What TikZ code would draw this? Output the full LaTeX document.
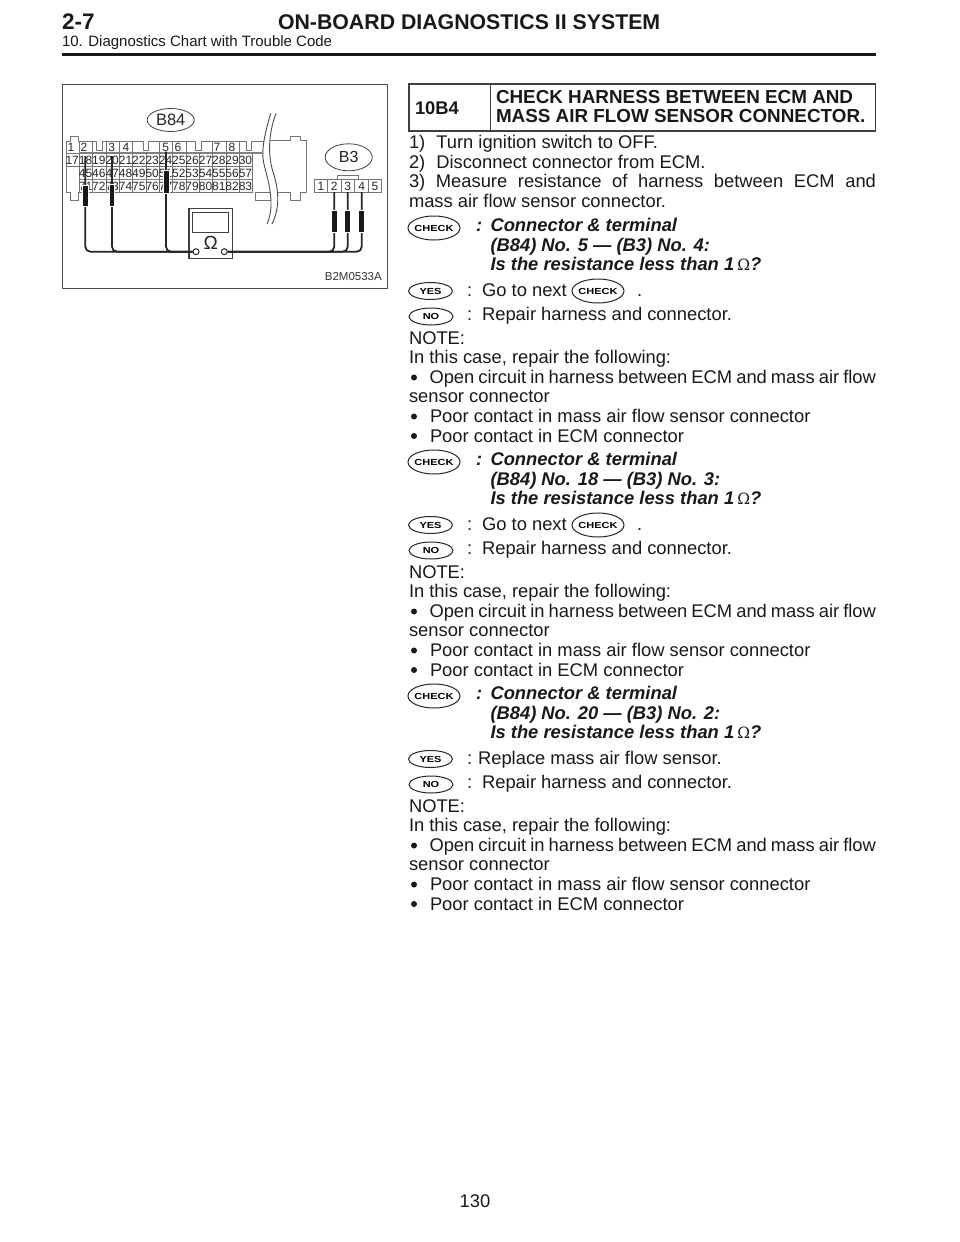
\documentclass[tikz,border=0pt]{standalone}
\usepackage{fontspec}
\usepackage{graphicx}
\setmainfont{Liberation Sans}
\usetikzlibrary{shapes.geometric}
\newcommand{\bodyfs}{\fontsize{18.35}{20}\selectfont}
\newcommand{\FillLine}[2]{\makebox[#1][s]{#2}}
\newcommand{\IconText}[1]{\makebox[0pt][c]{\scalebox{1.25}[1]{#1}}}
\tikzset{
  txt/.style={anchor=base west,inner sep=0pt,outer sep=0pt,text=black!90,font=\bodyfs},
  btxt/.style={txt,font=\bodyfs\bfseries},
  bitxt/.style={txt,font=\bodyfs\bfseries\itshape},
  icon/.style={draw=black!85,line width=1pt,ellipse,inner sep=0pt,minimum height=#1,font=\fontsize{8.8}{9}\selectfont\bfseries},
  icon/.default=17pt,
  cell/.style={inner sep=0pt,text=black!85,font=\fontsize{12}{13}\selectfont},
  grid/.style={draw=black!55,line width=0.8pt},
  wire/.style={draw=black!85,line width=1.8pt,rounded corners=5pt},
  probe/.style={fill=black!90,draw=white,line width=1pt},
  tag/.style={draw=black!75,line width=0.8pt,ellipse,inner sep=0pt,text=black!85}
}
\newcommand{\NoteBlock}[1]{%
  \node[txt] (n#1a) at (409,#1) {NOTE:};
  \node[txt] (n#1b) at (409,#1+19.5) {In this case, repair the following:};
  \fill[black!90] (414,#1+33.5) circle (3);
  \node[txt] (n#1c) at (429.5,#1+39) {\FillLine{446.5pt}{Open circuit in harness between ECM and mass air flow}};
  \node[txt] (n#1d) at (409,#1+58.5) {sensor connector};
  \fill[black!90] (414,#1+72.5) circle (3);
  \node[txt] (n#1e) at (430,#1+78) {Poor contact in mass air flow sensor connector};
  \fill[black!90] (414,#1+92) circle (3);
  \node[txt] (n#1f) at (430,#1+98) {Poor contact in ECM connector};
}
\newcommand{\CheckBlock}[3]{%
  \node[icon=24pt,minimum width=52pt] (c#1) at (434,#1-3.5) {\IconText{CHECK}};
  \node[bitxt] at (476,#1) {:};
  \node[bitxt] at (490.5,#1) {Connector \& terminal};
  \node[bitxt] at (490.5,#1+19.5) {(B84) No. #2 — (B3) No. #3:};
  \node[bitxt] at (490.5,#1+39) {Is the resistance less than 1\,{\normalfont\fontspec{DejaVu Serif}\fontsize{15.5}{16}\selectfont Ω}?};
}
\newcommand{\AnswerNext}[1]{%
  \node[icon,minimum width=44pt] (y#1) at (430.5,#1-5) {\IconText{YES}};
  \node[txt] at (467,#1) {:\hspace{10pt}Go to next};
  \node[icon=24pt,minimum width=52pt] (cn#1) at (598,#1-5) {\IconText{CHECK}};
  \node[txt] at (637,#1) {.};
}
\newcommand{\AnswerNo}[1]{%
  \node[icon,minimum width=44pt] (no#1) at (431,#1-3.5) {\IconText{NO}};
  \node[txt] at (467,#1) {:\hspace{10pt}Repair harness and connector.};
}
\begin{document}
\begin{tikzpicture}[x=1pt,y=-1pt]
\useasboundingbox (0,0) rectangle (960,1242);
\fill[white] (0,0) rectangle (960,1242);
% page header
\node[txt,font=\fontsize{22.5}{23}\selectfont\bfseries] (sec) at (62,29) {2-7};
\node[txt,font=\fontsize{21.3}{23}\selectfont\bfseries] (ttl) at (278,29) {ON-BOARD DIAGNOSTICS II SYSTEM};
\node[txt,font=\fontsize{15}{18}\selectfont] (sub) at (62,46.5) {10. Diagnostics Chart with Trouble Code};
\draw[black!90,line width=3pt] (62,54) -- (876,54);
% figure frame
\draw[black!70,line width=1pt] (62,84.5) rectangle (387,288);
\node[tag,minimum width=47pt,minimum height=23pt,font=\fontsize{16.5}{18}\selectfont] (B84) at (170.7,120) {B84};
\node[tag,minimum width=47pt,minimum height=27pt,font=\fontsize{16}{18}\selectfont] (B3) at (348.7,157.3) {B3};
% ECM connector outline
\draw[grid,line join=round]
  (66,141.7) -- (70,141.7) -- (70,136) -- (78.5,136) -- (78.5,141.7) -- (96,141.7) -- (96,150) -- (102.7,150) -- (102.7,141.7)
  -- (143,141.7) -- (143,150) -- (148,150) -- (148,141.7) -- (195.7,141.7) -- (195.7,150) -- (201.7,150) -- (201.7,141.7)
  -- (246,141.7) -- (246,150) -- (251.7,150) -- (251.7,141.7) -- (266,141.7);
\draw[grid] (66,141.7) -- (66,192.3) -- (70,192.3) -- (70,200.7) -- (78.5,200.7) -- (78.5,192.3) -- (252.7,192.3);
\draw[grid] (66,153.5) -- (266,153.5);
\draw[black!50,line width=1.5pt] (79,153) -- (262,153);
\draw[grid] (66,166) -- (252.7,166);
\draw[black!50,line width=1.2pt] (79.3,179.3) -- (252.7,179.3);
\foreach \x in {79.3,92.7,106,119.3,132.7,159.3,172.7,186,212.7,226,239.3}
  \draw[grid] (\x,141.7) -- (\x,153.5);
\foreach \x in {79.3,92.7,106,119.3,132.7,146,159.3,172.7,186,199.3,212.7,226,239.3,252.7}
  \draw[grid] (\x,153.5) -- (\x,192.3);
\draw[grid] (255,192.3) -- (255,200.7) -- (277,200.7);
% ECM cut-away end
\draw[grid,line join=round] (265,140) -- (290,140) -- (290,136) -- (300,136) -- (300,140) -- (306,140) -- (306,192.3) -- (300,192.3) -- (300,200.7) -- (290,200.7) -- (290,192.3) -- (255,192.3);
% row 1 numbers
\foreach \x/\t in {71/1,84/2,111.7/3,126/4,165.7/5,178/6,217/7,232/8}
  \node[cell] (t\t) at (\x,147.5) {\t};
% rows 2-4 numbers
\foreach \i/\t in {0/17,1/18,2/19,3/20,4/21,5/22,6/23,7/24,8/25,9/26,10/27,11/28,12/29,13/30}
  \node[cell] (r\t) at ({72.2+13.33*\i},160) {\t};
\foreach \i/\t in {1/45,2/46,3/47,4/48,5/49,6/50,7/51,8/52,9/53,10/54,11/55,12/56,13/57}
  \node[cell] (r\t) at ({72.2+13.33*\i},173) {\t};
\foreach \i/\t in {1/71,2/72,3/73,4/74,5/75,6/76,7/77,8/78,9/79,10/80,11/81,12/82,13/83}
  \node[cell] (r\t) at ({72.2+13.33*\i},186.5) {\t};
% cut-away wave
\fill[white] (270.7,113.3) .. controls (260,150) and (262,158) .. (266,172) .. controls (272,195) and (273,210) .. (267,224)
  -- (272,224) .. controls (280,208) and (279,190) .. (273,172) .. controls (268,155) and (268,135) .. (276,113.3) -- cycle;
\draw[black!70,line width=0.9pt] (270.7,113.3) .. controls (260,150) and (262,158) .. (266,172) .. controls (272,195) and (273,210) .. (267,224);
\draw[black!70,line width=0.9pt] (276,113.3) .. controls (268,135) and (268,155) .. (273,172) .. controls (279,190) and (280,208) .. (272,224);
% B3 connector
\draw[grid] (337,179) -- (337,175) -- (358.5,175) -- (358.5,179);
\draw[grid] (314.3,179) rectangle (381.7,192.3);
\foreach \x in {327.8,341.3,354.8,368.2} \draw[grid] (\x,179) -- (\x,192.3);
\foreach \x/\t in {321/1,334.3/2,347.7/3,361.7/4,375/5}
  \node[cell] (b\t) at (\x,186) {\t};
% meter
\node[draw=black!75,line width=1.3pt,fill=white,minimum width=43.3pt,minimum height=50pt,inner sep=0pt] (meter) at (210.7,233.3) {};
\node[draw=black!75,line width=1.3pt,minimum width=35.6pt,minimum height=20.4pt,inner sep=0pt] (screen) at (210.5,222.5) {};
\node[inner sep=0pt,text=black!85,font=\fontsize{19}{20}\selectfont] (ohm) at (210.7,243) {Ω};
\node[draw=black!85,line width=1pt,circle,minimum size=6pt,inner sep=0pt] (mL) at (196,251.7) {};
\node[draw=black!85,line width=1pt,circle,minimum size=6pt,inner sep=0pt] (mR) at (224.3,251.7) {};
% probes
\coordinate (pA) at (85.3,156);
\coordinate (pB) at (112,156);
\coordinate (pC) at (166,151.7);
\coordinate (pD) at (334.3,192);
\coordinate (pE) at (347.7,192);
\coordinate (pF) at (361.7,192);
\draw[wire] (pA) |- (mL.west);
\draw[wire] (pB) |- (mL.west);
\draw[wire] (pC) |- (mL.west);
\draw[wire] (pD) |- (mR.east);
\draw[wire] (pE) |- (mR.east);
\draw[wire] (pF) |- (mR.east);
\draw[probe] (82.5,185) rectangle (88.2,206);
\draw[probe] (109.2,184) rectangle (114.9,206);
\draw[probe] (163,170) rectangle (169,193);
\draw[probe] (331.3,210) rectangle (337.3,232);
\draw[probe] (344.7,210) rectangle (350.7,232);
\draw[probe] (358.7,210) rectangle (364.7,232);
\node[anchor=base east,inner sep=0pt,text=black!80,font=\fontsize{11.5}{12}\selectfont] (fig) at (382,280) {B2M0533A};
% step header
\draw[black!75,line width=1.2pt] (409,84) rectangle (875.5,131);
\draw[black!75,line width=1.2pt] (490.7,84) -- (490.7,131);
\node[btxt] (step) at (415,114) {10B4};
\node[btxt,font=\fontsize{18.85}{20}\selectfont\bfseries] (h1) at (496,103.3) {CHECK HARNESS BETWEEN ECM AND};
\node[btxt,font=\fontsize{18.85}{20}\selectfont\bfseries] (h2) at (496,122.5) {MASS AIR FLOW SENSOR CONNECTOR.};
% body
\node[txt] (s1) at (409,148.3) {1)\hspace{11pt}Turn ignition switch to OFF.};
\node[txt] (s2) at (409,168) {2)\hspace{11pt}Disconnect connector from ECM.};
\node[txt] (s3) at (409,187.7) {\FillLine{467pt}{3) Measure resistance of harness between ECM and}};
\node[txt] (s4) at (409,207.3) {mass air flow sensor connector.};
\CheckBlock{231.5}{5}{4}
\AnswerNext{296}
\AnswerNo{320}
\NoteBlock{344}
\CheckBlock{465.5}{18}{3}
\AnswerNext{530}
\AnswerNo{554}
\NoteBlock{578}
\CheckBlock{699.5}{20}{2}
\node[icon,minimum width=44pt] (y3) at (430.5,759) {\IconText{YES}};
\node[txt] at (467,764) {:\hspace{6pt}Replace mass air flow sensor.};
\AnswerNo{788}
\NoteBlock{812}
\node[txt,anchor=base] (pg) at (475,1207) {130};
\end{tikzpicture}
\end{document}
